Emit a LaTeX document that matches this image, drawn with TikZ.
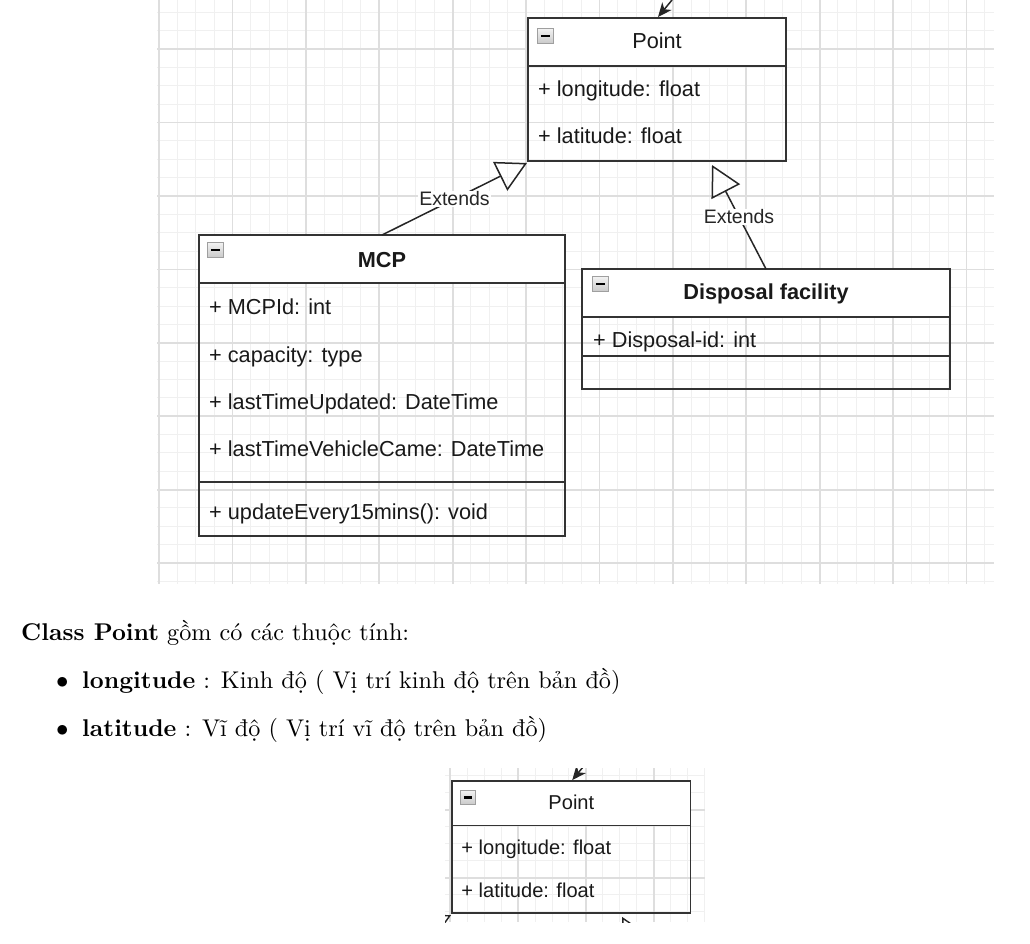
\documentclass[tikz,border=0pt]{standalone}
\usepackage{fontspec}
\newfontfamily\umlfont{Liberation Sans}
\newfontfamily\docfont{lmroman10-regular.otf}[BoldFont=lmroman10-bold.otf]
\usetikzlibrary{arrows.meta,calc}

\tikzset{
  umltxt/.style={font=\umlfont\fontsize{21.7pt}{26pt}\selectfont, text=black!90, inner sep=0pt},
  titletext/.style={umltxt, anchor=base},
  boldtitle/.style={font=\umlfont\bfseries\fontsize{21.7pt}{26pt}\selectfont, text=black!90, inner sep=0pt, anchor=base},
  attrtext/.style={umltxt, anchor=base west},
  classbox/.style={draw=black!80, line width=1.6pt, anchor=north west, inner sep=0pt, outer sep=0pt},
  hdrbox/.style={classbox, fill=white},
  minusicon/.style={anchor=north west, minimum width=16pt, minimum height=15pt, inner sep=0pt,
    draw=gray!75, line width=0.8pt, top color=gray!10, bottom color=gray!42,
    path picture={\draw[line width=2.6pt,black] ([xshift=-4.5pt]path picture bounding box.center) -- ([xshift=4.5pt]path picture bounding box.center);}},
  assoc/.style={draw=black!85, line width=1.5pt, -{Stealth[length=14pt,width=12pt,inset=4pt]}},
  extends/.style={draw=black!85, line width=1.5pt, -{Triangle[open,length=30pt,width=32pt]}},
  extendssmall/.style={draw=black!85, line width=1.4pt, -{Triangle[open,length=28pt,width=29.5pt]}},
  extlabel/.style={font=\umlfont\fontsize{19.5pt}{23pt}\selectfont, fill=white, inner sep=1pt, text=black!85},
  doctext/.style={font=\docfont\fontsize{24.2pt}{29pt}\selectfont, anchor=base west, inner sep=0pt},
  minorgrid/.style={draw=black!6, line width=1pt},
  majorgrid/.style={draw=black!13, line width=1.8pt},
  % the Point class: header, two attributes, incoming association arrow
  pics/pointclass/.style={code={
    \node[hdrbox, minimum width=258pt, minimum height=48pt] (-hdr) at (0,0) {};
    \node[classbox, minimum width=258pt, minimum height=143pt] (-box) at (0,0) {};
    \node[minusicon] (-icon) at (9,10) {};
    \node[titletext] (-title) at (129,31) {Point};
    \node[attrtext] (-a1) at (10,79) {+ longitude: float};
    \node[attrtext] (-a2) at (10,126) {+ latitude: float};
    \coordinate (-arr) at (130,-1);
    \coordinate (-src) at (144,-18);
    \coordinate (-ext1) at (-1,145);
    \coordinate (-ext2) at (184,147);
    \draw[assoc] (-src) -- (-arr);
  }}
}

\begin{document}
\begin{tikzpicture}[x=1pt,y=-1pt]
\useasboundingbox (0,0) rectangle (1030,944);
\fill[white] (0,0) rectangle (1030,944);

% ---- drawing canvas grid ----
\begin{scope}
  \clip (157,0) rectangle (994,584);
  \foreach \k in {0,...,45} \draw[minorgrid] ({159+18.35*\k},0) -- ({159+18.35*\k},584);
  \foreach \k in {-2,...,29} \draw[minorgrid] (157,{49.2+18.35*\k}) -- (994,{49.2+18.35*\k});
  \foreach \k in {0,4,...,44} \draw[majorgrid] ({159+18.35*\k},0) -- ({159+18.35*\k},584);
  \foreach \k in {0,4,...,28} \draw[majorgrid] (157,{49.2+18.35*\k}) -- (994,{49.2+18.35*\k});
\end{scope}

% ---- Point ----
\pic (pt) at (528,18) {pointclass};

% ---- MCP ----
\node[hdrbox, minimum width=366pt, minimum height=48pt] (mcphdr) at (199,235) {};
\node[classbox, minimum width=366pt, minimum height=301pt] (mcp) at (199,235) {};
\node[classbox, minimum width=366pt, minimum height=54pt] (mcpops) at (199,482) {};
\node[minusicon] (mcpicon) at (207,242) {};
\node[boldtitle] (mcptitle) at (382,267) {MCP};
\node[attrtext] (mcpa1) at (209,314) {+ MCPId: int};
\node[attrtext] (mcpa2) at (209,362) {+ capacity: type};
\node[attrtext] (mcpa3) at (209,409) {+ lastTimeUpdated: DateTime};
\node[attrtext] (mcpa4) at (209,456) {+ lastTimeVehicleCame: DateTime};
\node[attrtext] (mcpm1) at (209,519) {+ updateEvery15mins(): void};

% ---- Disposal facility ----
\node[hdrbox, minimum width=368pt, minimum height=48pt] (dsphdr) at (582,269) {};
\node[classbox, minimum width=368pt, minimum height=120pt] (dsp) at (582,269) {};
\node[classbox, minimum width=368pt, minimum height=33pt] (dspops) at (582,356) {};
\node[minusicon] (dspicon) at (592,276) {};
\node[boldtitle] (dsptitle) at (766,299) {Disposal facility};
\node[attrtext] (dspa1) at (593,347) {+ Disposal-id: int};

% ---- generalisations ----
\draw[extends] (mcp.north) -- node[extlabel] (ext1lbl) {Extends} (pt-ext1);
\draw[extends] (dsp.north) -- node[extlabel] (ext2lbl) {Extends} (pt-ext2);

% ---- explanatory text ----
\node[doctext] (intro) at (21,640) {\textbf{Class Point} gồm có các thuộc tính:};
\node[doctext] (dot1) at (56,688) {$\bullet$};
\node[doctext] (item1) at (82,688) {\textbf{longitude} : Kinh độ ( Vị trí kinh độ trên bản đồ)};
\node[doctext] (dot2) at (56,736) {$\bullet$};
\node[doctext] (item2) at (82,736) {\textbf{latitude} : Vĩ độ ( Vị trí vĩ độ trên bản đồ)};

% ---- reduced copy of the Point class ----
\begin{scope}
  \clip (445,768) rectangle (705,922);
  \foreach \k in {-1,...,15} \draw[minorgrid] ({450.2+16.97*\k},768) -- ({450.2+16.97*\k},922);
  \foreach \k in {-2,...,7} \draw[minorgrid] (445,{809.9+16.97*\k}) -- (705,{809.9+16.97*\k});
  \foreach \k in {0,4,...,12} \draw[majorgrid] ({450.2+16.97*\k},768) -- ({450.2+16.97*\k},922);
  \foreach \k in {0,4} \draw[majorgrid] (445,{809.9+16.97*\k}) -- (705,{809.9+16.97*\k});
  \pic[scale=0.925, transform shape] (sp) at (452,781) {pointclass};
  \coordinate (smcp) at ($(sp-ext1)+(-134,67)$);
  \coordinate (sdsp) at ($(sp-ext2)+(50,96)$);
  \draw[extendssmall] (smcp) -- (sp-ext1);
  \draw[extendssmall] (sdsp) -- (sp-ext2);
\end{scope}
\end{tikzpicture}
\end{document}
